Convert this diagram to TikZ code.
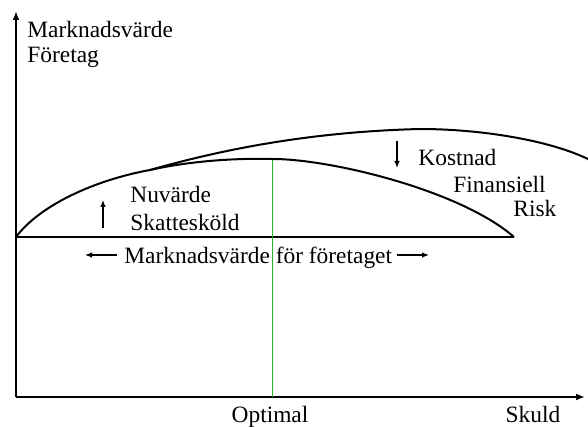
\documentclass[tikz,border=0pt]{standalone}
\usepackage{fontspec}
\setmainfont{Liberation Serif}
\usepackage{tikz}
\usetikzlibrary{arrows.meta,calc,positioning}
\definecolor{optgreen}{RGB}{40,180,40}

\begin{document}
\begin{tikzpicture}[x=0.5pt, y=-0.5pt,
    every node/.style={font=\fontsize{11.7}{14}\selectfont, inner sep=0pt},
    axis/.style={line width=1pt, -{Latex[length=4.5pt,width=3.5pt]}},
    curve/.style={line width=1pt},
    hint/.style={line width=0.6pt, -{Latex[length=3.5pt,width=2.8pt]}}]
    \useasboundingbox (0,0) rectangle (588,427);

    % axes
    \coordinate (O) at (16,397);
    \coordinate (ytop) at (16,11);
    \coordinate (xend) at (585,397);
    \draw[axis] (O) -- (ytop);
    \draw[axis] (O) -- (xend);

    % base line and curves
    \coordinate (A) at (16,237);
    \coordinate (B) at (514,237);
    \coordinate (M) at (150,170);
    \coordinate (peak) at (273,159);
    \draw[curve] (A) -- (B);
    \draw[curve] (A) .. controls (40,205) and (95,180) .. (M);
    \draw[curve] (M) .. controls (190,161) and (235,158) .. (peak)
                     .. controls (330,159) and (460,190) .. (B);
    \draw[curve] (M) .. controls (210,153) and (300,132) .. (420,129)
                     .. controls (480,129) and (550,140) .. (590,160);

    % optimum
    \coordinate (optbot) at (272,397);
    \draw[optgreen, line width=0.5pt] (272,160) -- (optbot);

    % labels
    \node[anchor=base west] (ylab1) at (27,38) {Marknadsvärde};
    \node[anchor=base west] (ylab2) at (27,63) {Företag};
    \node[anchor=base west] (nuv) at (130,203) {Nuvärde};
    \node[anchor=base west] (skatt) at (130,230) {Skattesköld};
    \node[anchor=base west] (kost) at (418,166) {Kostnad};
    \node[anchor=base west] (fin) at (453,192) {Finansiell};
    \node[anchor=base west] (risk) at (513,217) {Risk};
    \node[anchor=base west] (mv) at (124,263) {Marknadsvärde för företaget};
    \node[anchor=base] (opt) at (270,422) {Optimal};
    \node[anchor=base] (skuld) at (533,422) {Skuld};

    % small arrows
    \coordinate (upS) at (103,228);
    \coordinate (upE) at (103,200);
    \coordinate (dnS) at (397,141);
    \coordinate (dnE) at (397,168);
    \coordinate (mvL) at (117,255);
    \coordinate (mvLtip) at (85,255);
    \coordinate (mvR) at (397,255);
    \coordinate (mvRtip) at (429,255);
    \draw[hint] (upS) -- (upE);
    \draw[hint] (dnS) -- (dnE);
    \draw[hint] (mvL) -- (mvLtip);
    \draw[hint] (mvR) -- (mvRtip);
\end{tikzpicture}
\end{document}
